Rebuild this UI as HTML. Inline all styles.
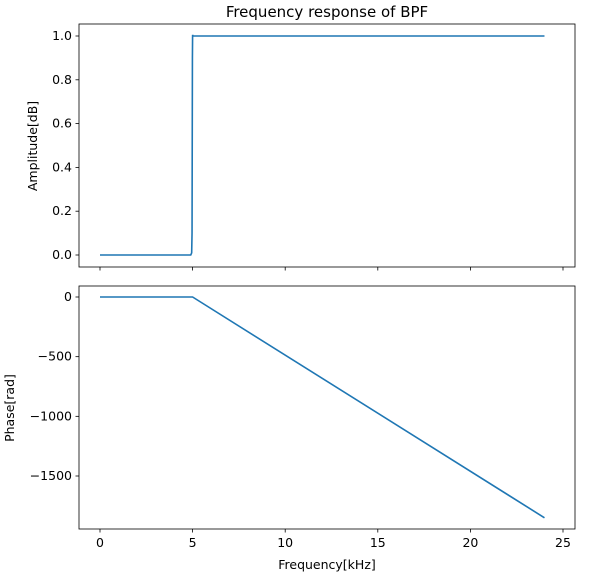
<!DOCTYPE html>
<html><head><meta charset="utf-8"><style>
body{margin:0;background:#fff;}
svg{display:block;font-family:"DejaVu Sans","Liberation Sans",sans-serif;}
</style></head><body>
<svg id="c" width="612" height="577"></svg>
<script>
const freqTop=[0,4.9,4.95,4.97,4.99,5.0,5.02,5.05,10,15,20,24];
const ampTop=[0,0,0.01,0.1,0.9,1.005,1.0,1.0,1.0,1.0,1.0,1.0];
const freqBot=[0,5,24];
const phaseBot=[0,0,-1850];
const xTicks=[0,5,10,15,20,25];
const ampTicks=[0,0.2,0.4,0.6,0.8,1.0];
const phaseTicks=[0,-500,-1000,-1500];
const NS="http://www.w3.org/2000/svg";
const svg=document.getElementById('c');
function mk(t,a,p){const e=document.createElementNS(NS,t);for(const k in a)e.setAttribute(k,a[k]);(p||svg).appendChild(e);return e;}
const L=79,R=575;
const xs=v=>100+v*(563-100)/25;
const yTop=v=>255-v*219;
const yBot=v=>297-v*(476-297)/1500;
function axes(top,bot,name,ticks,ys,fmt,showX){
 const g=mk('g',{});
 
 
 mk('rect',{x:L,y:top,width:R-L,height:bot-top,fill:'none',stroke:'#000','stroke-width':0.8},g);
 ticks.forEach(t=>{const y=ys(t);
  mk('line',{x1:L-3.5,x2:L,y1:y,y2:y,stroke:'#000','stroke-width':0.8},g);
  const tx=mk('text',{x:L-7,y:y+4,'text-anchor':'end','font-size':12.5},g);tx.textContent=fmt(t);});
 xTicks.forEach(t=>{const x=xs(t);
  mk('line',{x1:x,x2:x,y1:bot,y2:bot+3.5,stroke:'#000','stroke-width':0.8},g);
  if(showX){const tx=mk('text',{x:x,y:bot+18,'text-anchor':'middle','font-size':12.5},g);tx.textContent=t;}});
 return g;
}
const g1=axes(24,267,'amplitude-axes',ampTicks,yTop,v=>v.toFixed(1),false);
const g2=axes(286,529,'phase-axes',phaseTicks,yBot,v=>v===0?'0':'\u2212'+Math.abs(v),true);
const p1=mk('polyline',{points:freqTop.map((f,i)=>xs(f)+','+yTop(ampTop[i])).join(' '),fill:'none',stroke:'#1f77b4','stroke-width':1.6});


const p2=mk('polyline',{points:freqBot.map((f,i)=>xs(f)+','+yBot(phaseBot[i])).join(' '),fill:'none',stroke:'#1f77b4','stroke-width':1.6});


const t=mk('text',{x:327,y:17,'text-anchor':'middle','font-size':15});t.textContent='Frequency response of BPF';

const a=mk('text',{x:37,y:146,'text-anchor':'middle','font-size':12.5,transform:'rotate(-90 37 146)'});a.textContent='Amplitude[dB]';

const b=mk('text',{x:14,y:408,'text-anchor':'middle','font-size':12.5,transform:'rotate(-90 14 408)'});b.textContent='Phase[rad]';

const x=mk('text',{x:327,y:569,'text-anchor':'middle','font-size':12.5});x.textContent='Frequency[kHz]';

</script>
</body></html>
